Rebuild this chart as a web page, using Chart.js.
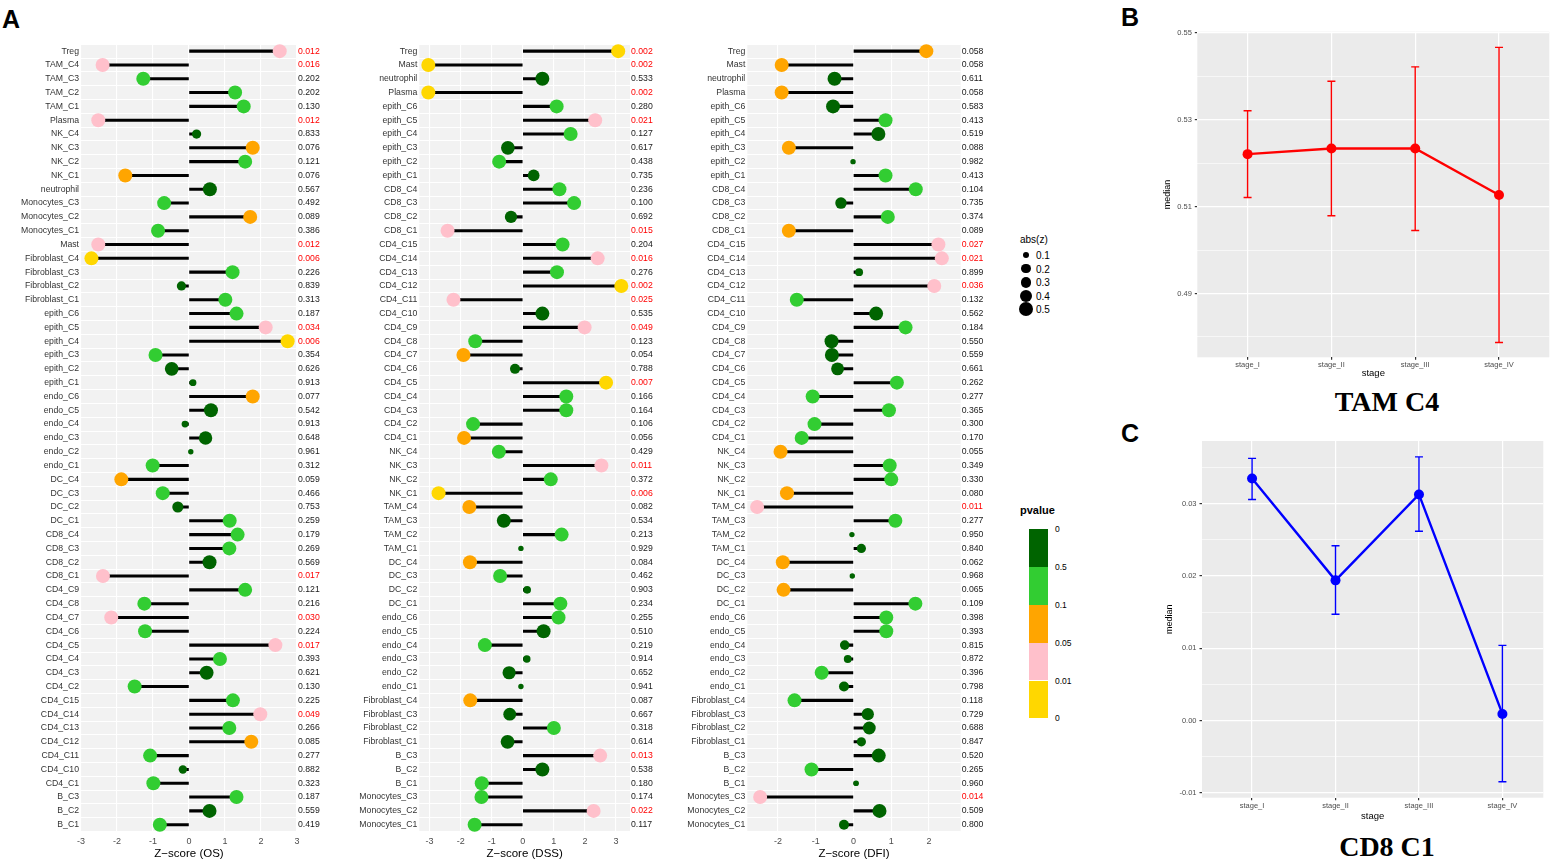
<!DOCTYPE html>
<html>
<head>
<meta charset="utf-8">
<script src="https://cdn.jsdelivr.net/npm/chart.js@4.4.1/dist/chart.umd.min.js"></script>
<style>
  body { margin: 0; background: #fff; width: 1556px; height: 862px; position: relative; overflow: hidden;
         font-family: 'Liberation Sans', Arial, sans-serif; }
  .box { position: absolute; }
  .tag { position: absolute; font-weight: bold; font-size: 25px; color: #000; line-height: 1; }
  .ttl { position: absolute; font-family: 'Liberation Serif', 'Times New Roman', serif; font-weight: bold;
         font-size: 28px; color: #000; transform: translate(-50%, -50%); white-space: nowrap; }
  .lg { position: absolute; color: #000; white-space: nowrap; transform: translateY(-50%); }
</style>
</head>
<body>
<div class="tag" style="left:2px;top:7px">A</div>
<div class="tag" style="left:1121px;top:5px">B</div>
<div class="tag" style="left:1121px;top:421px">C</div>

<div class="box" style="left:0px;top:37px;width:330px;height:825px"><canvas id="os"></canvas></div>
<div class="box" style="left:330px;top:37px;width:335px;height:825px"><canvas id="dss"></canvas></div>
<div class="box" style="left:665px;top:37px;width:330px;height:825px"><canvas id="dfi"></canvas></div>
<div class="box" style="left:1150px;top:20px;width:406px;height:365px"><canvas id="tam"></canvas></div>
<div class="box" style="left:1150px;top:420px;width:406px;height:410px"><canvas id="cd8"></canvas></div>

<div class="ttl" style="left:1387px;top:402px">TAM C4</div>
<div class="ttl" style="left:1387px;top:847px">CD8 C1</div>
<div id="legend"></div>

<script>
// row order of the OS panel (top to bottom)
const NAMES_OS = ['Treg','TAM_C4','TAM_C3','TAM_C2','TAM_C1','Plasma','NK_C4','NK_C3','NK_C2','NK_C1',
  'neutrophil','Monocytes_C3','Monocytes_C2','Monocytes_C1','Mast','Fibroblast_C4','Fibroblast_C3',
  'Fibroblast_C2','Fibroblast_C1','epith_C6','epith_C5','epith_C4','epith_C3','epith_C2','epith_C1',
  'endo_C6','endo_C5','endo_C4','endo_C3','endo_C2','endo_C1','DC_C4','DC_C3','DC_C2','DC_C1',
  'CD8_C4','CD8_C3','CD8_C2','CD8_C1','CD4_C9','CD4_C8','CD4_C7','CD4_C6','CD4_C5','CD4_C4','CD4_C3',
  'CD4_C2','CD4_C15','CD4_C14','CD4_C13','CD4_C12','CD4_C11','CD4_C10','CD4_C1','B_C3','B_C2','B_C1'];
const Z_OS = [2.52,-2.40,-1.27,1.28,1.52,-2.52,0.21,1.77,1.56,-1.77,
  0.58,-0.69,1.70,-0.86,-2.52,-2.71,1.21,-0.21,1.01,1.32,2.13,2.74,-0.93,-0.48,0.11,
  1.77,0.61,-0.11,0.46,0.05,-1.01,-1.88,-0.73,-0.31,1.13,1.35,1.12,0.57,-2.39,
  1.56,-1.24,-2.16,-1.22,2.40,0.86,0.49,-1.51,1.22,1.98,1.12,1.73,-1.08,-0.17,-0.99,1.32,0.57,-0.81];
const P_OS = [0.012,0.016,0.202,0.202,0.130,0.012,0.833,0.076,0.121,0.076,
  0.567,0.492,0.089,0.386,0.012,0.006,0.226,0.839,0.313,0.187,0.034,0.006,0.354,0.626,0.913,
  0.077,0.542,0.913,0.648,0.961,0.312,0.059,0.466,0.753,0.259,0.179,0.269,0.569,0.017,
  0.121,0.216,0.030,0.224,0.017,0.393,0.621,0.130,0.225,0.049,0.266,0.085,0.277,0.882,0.323,0.187,0.559,0.419];

// row order of the DSS and DFI panels
const NAMES_SURV = ['Treg','Mast','neutrophil','Plasma','epith_C6','epith_C5','epith_C4','epith_C3','epith_C2',
  'epith_C1','CD8_C4','CD8_C3','CD8_C2','CD8_C1','CD4_C15','CD4_C14','CD4_C13','CD4_C12','CD4_C11',
  'CD4_C10','CD4_C9','CD4_C8','CD4_C7','CD4_C6','CD4_C5','CD4_C4','CD4_C3','CD4_C2','CD4_C1',
  'NK_C4','NK_C3','NK_C2','NK_C1','TAM_C4','TAM_C3','TAM_C2','TAM_C1','DC_C4','DC_C3','DC_C2','DC_C1',
  'endo_C6','endo_C5','endo_C4','endo_C3','endo_C2','endo_C1','Fibroblast_C4','Fibroblast_C3',
  'Fibroblast_C2','Fibroblast_C1','B_C3','B_C2','B_C1','Monocytes_C3','Monocytes_C2','Monocytes_C1'];
const Z_DSS = [3.07,-3.04,0.63,-3.04,1.09,2.33,1.54,-0.48,-0.76,0.35,1.18,1.65,-0.38,-2.42,
  1.28,2.41,1.10,3.17,-2.23,0.63,1.99,-1.53,-1.91,-0.25,2.68,1.40,1.40,-1.60,-1.89,
  -0.77,2.53,0.90,-2.71,-1.72,-0.61,1.25,-0.06,-1.70,-0.73,0.14,1.21,
  1.15,0.67,-1.22,0.13,-0.44,-0.06,-1.69,-0.42,1.00,-0.49,2.49,0.63,-1.32,-1.33,2.28,-1.55];
const P_DSS = [0.002,0.002,0.533,0.002,0.280,0.021,0.127,0.617,0.438,0.735,0.236,0.100,0.692,0.015,
  0.204,0.016,0.276,0.002,0.025,0.535,0.049,0.123,0.054,0.788,0.007,0.166,0.164,0.106,0.056,
  0.429,0.011,0.372,0.006,0.082,0.534,0.213,0.929,0.084,0.462,0.903,0.234,
  0.255,0.510,0.219,0.914,0.652,0.941,0.087,0.667,0.318,0.614,0.013,0.538,0.180,0.174,0.022,0.117];
const Z_DFI = [1.93,-1.90,-0.50,-1.90,-0.54,0.85,0.66,-1.71,-0.01,0.85,1.65,-0.33,0.91,-1.71,
  2.25,2.34,0.15,2.14,-1.50,0.60,1.38,-0.58,-0.57,-0.42,1.15,-1.08,0.94,-1.03,-1.37,
  -1.93,0.96,1.00,-1.76,-2.55,1.11,-0.04,0.21,-1.87,-0.03,-1.85,1.64,
  0.87,0.87,-0.23,-0.15,-0.84,-0.25,-1.56,0.38,0.42,0.21,0.67,-1.11,0.07,-2.47,0.69,-0.25];
const P_DFI = [0.058,0.058,0.611,0.058,0.583,0.413,0.519,0.088,0.982,0.413,0.104,0.735,0.374,0.089,
  0.027,0.021,0.899,0.036,0.132,0.562,0.184,0.550,0.559,0.661,0.262,0.277,0.365,0.300,0.170,
  0.055,0.349,0.330,0.080,0.011,0.277,0.950,0.840,0.062,0.968,0.065,0.109,
  0.398,0.393,0.815,0.872,0.396,0.798,0.118,0.729,0.688,0.847,0.520,0.265,0.960,0.014,0.509,0.800];

// stage panels
const STAGES = ['stage_I','stage_II','stage_III','stage_IV'];
const TAM_MEDIAN = [0.5221, 0.5234, 0.5234, 0.5127];
const TAM_LOW    = [0.5121, 0.5079, 0.5045, 0.4787];
const TAM_HIGH   = [0.5321, 0.5389, 0.5422, 0.5467];
const TAM_TICKS  = [0.49, 0.51, 0.53, 0.55];
const CD8_MEDIAN = [0.0335, 0.0194, 0.0313, 0.0009];
const CD8_LOW    = [0.0306, 0.0147, 0.0262, -0.0085];
const CD8_HIGH   = [0.0363, 0.0242, 0.0365, 0.0104];
const CD8_TICKS  = [-0.01, 0.00, 0.01, 0.02, 0.03];

// legends
const ABSZ_BREAKS = [0.1, 0.2, 0.3, 0.4, 0.5];
const PVALUE_LABELS = ['0', '0.5', '0.1', '0.05', '0.01', '0'];
const PVALUE_COLORS = ['#006400', '#32CD32', '#FFA500', '#FFC0CB', '#FFD700'];

function pColor(p) {
    if (p > 0.5) return PVALUE_COLORS[0];
    if (p >= 0.1) return PVALUE_COLORS[1];
    if (p >= 0.05) return PVALUE_COLORS[2];
    if (p >= 0.01) return PVALUE_COLORS[3];
    return PVALUE_COLORS[4];
}

// dot size follows abs(z), capped at 0.5 (area scaling)
function dotRadius(z) {
    const t = Math.min(Math.abs(z), 0.5) / 0.5;
    return Math.max(Math.sqrt(1.44 + 47.56 * t), 2.7);
}

const panelBg = {
    id: 'panelBg',
    beforeDraw(chart, args, opts) {
        const { ctx, chartArea: a } = chart;
        ctx.save();
        ctx.fillStyle = opts.color;
        ctx.fillRect(a.left, a.top, a.right - a.left, a.bottom - a.top);
        ctx.restore();
    }
};

Chart.defaults.font.family = "'Liberation Sans', Arial, sans-serif";

function lollipop(id, names, z, p, xmin, xmax, title, leftW, rightW) {
    new Chart(document.getElementById(id), {
        type: 'bar',
        data: {
            labels: names,
            datasets: [
                {
                    type: 'scatter',
                    order: 0,
                    data: names.map((n, i) => ({ x: z[i], y: n })),
                    pointRadius: c => dotRadius(z[c.dataIndex]),
                    pointBackgroundColor: c => pColor(p[c.dataIndex]),
                    pointBorderWidth: 0,
                },
                {
                    type: 'bar',
                    order: 1,
                    data: z.map(v => [0, v]),
                    backgroundColor: '#000',
                    borderWidth: 0,
                    barThickness: 2.4,
                }
            ]
        },
        options: {
            indexAxis: 'y',
            responsive: true,
            maintainAspectRatio: false,
            animation: false,
            events: [],
            layout: { padding: { top: 0, left: 0, right: 0, bottom: 0 } },
            plugins: {
                legend: { display: false },
                tooltip: { enabled: false },
                panelBg: { color: '#F2F2F2' },
            },
            scales: {
                x: {
                    type: 'linear', min: xmin, max: xmax,
                    afterFit: s => { s.height = 30.4; },
                    grid: { color: '#FFFFFF', lineWidth: 1.1, drawTicks: false },
                    border: { display: false },
                    ticks: { stepSize: 1, includeBounds: false, color: '#4D4D4D', font: { size: 9 }, padding: 5 },
                    title: { display: true, text: title, color: '#000', font: { size: 11.5 }, padding: { top: 0, bottom: 1 } },
                },
                y: {
                    type: 'category', offset: true,
                    afterFit: s => { s.width = leftW; },
                    grid: { offset: true, color: '#FFFFFF', lineWidth: 1, drawTicks: false },
                    border: { display: false },
                    ticks: { autoSkip: false, color: '#333', font: { size: 8.7 }, padding: 2 },
                },
                p: {
                    type: 'category', position: 'right', offset: true,
                    labels: p.map(v => v.toFixed(3)),
                    afterFit: s => { s.width = rightW; },
                    grid: { display: false, drawTicks: false },
                    border: { display: false },
                    ticks: {
                        autoSkip: false, font: { size: 8.7 }, padding: 1,
                        color: c => (p[c.index] < 0.05 ? '#FF0000' : '#1A1A1A'),
                    },
                },
            },
        },
        plugins: [panelBg],
    });
}

function stageChart(id, med, lo, hi, color, majors, ymin, ymax, xmax, lay) {
    const step = majors[1] - majors[0];
    const round = v => Math.round(v * 1e6) / 1e6;
    const isMajor = v => majors.some(m => Math.abs(m - v) < step / 10);
    const all = [];
    majors.forEach(m => { all.push(round(m - step / 2)); all.push(round(m)); });
    all.push(round(majors[majors.length - 1] + step / 2));
    const yTicks = all.filter(v => v >= ymin && v <= ymax);

    const datasets = [{
        type: 'line', order: 0,
        data: med.map((v, i) => ({ x: i, y: v })),
        borderColor: color, backgroundColor: color, borderWidth: 2.4,
        pointRadius: 5, pointBorderWidth: 0, pointBackgroundColor: color,
    }];
    STAGES.forEach((s, i) => {
        datasets.push({
            type: 'line', order: 1,
            data: [{ x: i, y: lo[i] }, { x: i, y: hi[i] }],
            borderColor: color, borderWidth: 1.4,
            pointStyle: 'line', pointRadius: 4, pointBorderColor: color, pointBorderWidth: 1.4,
        });
    });

    new Chart(document.getElementById(id), {
        type: 'line',
        data: { datasets },
        options: {
            responsive: true,
            maintainAspectRatio: false,
            animation: false,
            events: [],
            layout: { padding: { top: lay.top, right: lay.right, left: 0, bottom: 0 } },
            plugins: {
                legend: { display: false },
                tooltip: { enabled: false },
                panelBg: { color: '#EBEBEB' },
            },
            scales: {
                x: {
                    type: 'linear', min: -0.6, max: xmax,
                    afterBuildTicks: s => { s.ticks = STAGES.map((_, i) => ({ value: i })); },
                    afterFit: s => { s.height = lay.bottom; },
                    grid: { color: '#FFFFFF', lineWidth: 1.2, tickColor: '#333', tickLength: 2.5 },
                    border: { display: false },
                    ticks: { color: '#4D4D4D', font: { size: 7.5 }, padding: 1, autoSkip: false, maxRotation: 0,
                             callback: v => STAGES[v] },
                    title: { display: true, text: 'stage', color: '#000', font: { size: 9.5 }, padding: { top: 0, bottom: lay.xtitle } },
                },
                y: {
                    type: 'linear', min: ymin, max: ymax,
                    afterBuildTicks: s => { s.ticks = yTicks.map(v => ({ value: v })); },
                    afterFit: s => { s.width = lay.left; },
                    grid: {
                        color: '#FFFFFF',
                        lineWidth: c => (isMajor(c.tick.value) ? 1.2 : 0.6),
                        tickColor: c => (isMajor(c.tick.value) ? '#333' : 'rgba(0,0,0,0)'),
                        tickLength: 2.5,
                    },
                    border: { display: false },
                    ticks: { color: '#4D4D4D', font: { size: 7.5 }, padding: 3, autoSkip: false,
                             callback: v => (isMajor(v) ? v.toFixed(2) : '') },
                    title: { display: true, text: 'median', color: '#000', font: { size: 9 }, padding: { top: lay.ytitle, bottom: 0 } },
                },
            },
        },
        plugins: [panelBg],
    });
}

lollipop('os', NAMES_OS, Z_OS, P_OS, -3, 3, 'Z\u2212score (OS)', 81, 33);
lollipop('dss', NAMES_SURV, Z_DSS, P_DSS, -3.33, 3.45, 'Z\u2212score (DSS)', 89.3, 35);
lollipop('dfi', NAMES_SURV, Z_DFI, P_DFI, -2.81, 2.84, 'Z\u2212score (DFI)', 82.3, 34.3);

stageChart('tam', TAM_MEDIAN, TAM_LOW, TAM_HIGH, '#FF0000', TAM_TICKS, 0.4753, 0.5503, 3.6,
    { top: 11.7, right: 6.7, bottom: 27.7, left: 47.3, xtitle: 6, ytitle: 12 });
stageChart('cd8', CD8_MEDIAN, CD8_LOW, CD8_HIGH, '#0000FF', CD8_TICKS, -0.0107, 0.0387, 3.49,
    { top: 21, right: 12.7, bottom: 32.3, left: 52, xtitle: 8, ytitle: 14 });

// size and colour legends
const lg = document.getElementById('legend');
function add(html, style) {
    const d = document.createElement('div');
    d.className = 'lg';
    d.style.cssText = style;
    d.innerHTML = html;
    lg.appendChild(d);
}
add('abs(z)', 'left:1020px;top:239px;font-size:10px');
ABSZ_BREAKS.forEach((v, i) => {
    const r = dotRadius(v);
    const y = 255 + i * 13.6;
    const dot = document.createElement('div');
    dot.style.cssText = `position:absolute;left:${1026 - r}px;top:${y - r}px;width:${2 * r}px;height:${2 * r}px;border-radius:50%;background:#000`;
    lg.appendChild(dot);
    add(String(v), `left:1036px;top:${y}px;font-size:10px`);
});
add('<b>pvalue</b>', 'left:1020px;top:510px;font-size:11px');
PVALUE_COLORS.forEach((c, i) => {
    const band = document.createElement('div');
    band.style.cssText = `position:absolute;left:1029px;top:${529.3 + i * 37.8}px;width:19px;height:37.8px;background:${c}`;
    lg.appendChild(band);
});
PVALUE_LABELS.forEach((t, i) => {
    add(t, `left:1055px;top:${529.3 + i * 37.8}px;font-size:8.5px`);
});
</script>
</body>
</html>
